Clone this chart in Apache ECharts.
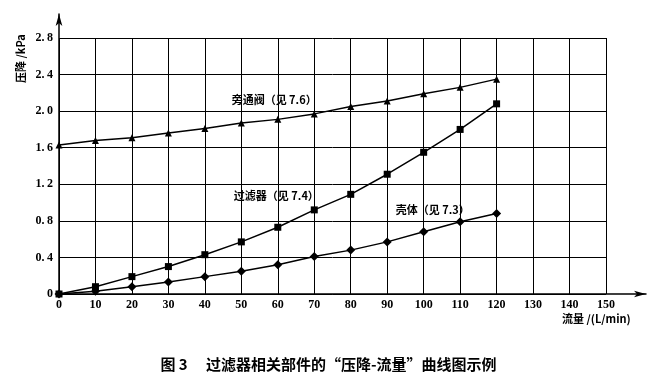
<!DOCTYPE html>
<html>
<head>
<meta charset="utf-8">
<script src="https://cdn.jsdelivr.net/npm/echarts@6/dist/echarts.min.js"></script>
<style>
  html, body { margin: 0; padding: 0; background: #fff; }
  #chart { width: 657px; height: 376px; }
</style>
</head>
<body>
<div id="chart"></div>
<script>
// 流量 L/min
var flow = [0, 10, 20, 30, 40, 50, 60, 70, 80, 90, 100, 110, 120];
// 压降 kPa
var bypass = [1.63, 1.68, 1.71, 1.76, 1.81, 1.87, 1.91, 1.97, 2.05, 2.11, 2.19, 2.26, 2.35];
var filter = [0, 0.08, 0.19, 0.30, 0.43, 0.57, 0.73, 0.92, 1.09, 1.31, 1.55, 1.80, 2.08];
var shell = [0, 0.03, 0.08, 0.13, 0.19, 0.25, 0.32, 0.41, 0.48, 0.57, 0.68, 0.79, 0.88];
var seriesNames = ['旁通阀（见 7.6）', '过滤器（见 7.4）', '壳体（见 7.3）'];
// label anchor points (data units)
var labelAt = [[59, 2.12], [59.6, 1.07], [102.5, 0.92]];

var cjk = '"Noto Sans CJK SC", sans-serif';
var serif = '"Liberation Serif", "DejaVu Serif", serif';

function pairs(ys) {
  return flow.map(function (x, i) { return [x, ys[i]]; });
}

function makeSeries(name, ys, symbol, size, idx) {
  return {
    name: name,
    type: 'line',
    data: pairs(ys),
    symbol: symbol,
    symbolSize: size,
    itemStyle: { color: '#000' },
    lineStyle: { color: '#000', width: 1.5 },
    z: 5,
    markPoint: {
      symbol: 'circle',
      symbolSize: 1,
      itemStyle: { color: 'rgba(0,0,0,0)' },
      data: [{ coord: labelAt[idx], value: 0 }],
      label: {
        show: true,
        position: 'inside',
        formatter: name,
        color: '#000',
        fontFamily: cjk,
        fontWeight: 'bold',
        fontSize: 11
      }
    }
  };
}

var chart = echarts.init(document.getElementById('chart'));
chart.setOption({
  animation: false,
  title: {
    text: '图 3　 过滤器相关部件的“压降-流量”曲线图示例',
    left: 'center',
    top: 352,
    textStyle: { fontFamily: cjk, fontWeight: 'bold', fontSize: 15, color: '#000' }
  },
  grid: [
    { left: 59, top: 38, width: 547, height: 256 },
    { left: 59, top: 14, width: 587, height: 280 }
  ],
  xAxis: [{
    type: 'value', gridIndex: 0, min: 0, max: 150, interval: 10,
    axisLine: { show: false },
    axisTick: { show: false },
    axisLabel: { color: '#000', fontFamily: serif, fontWeight: 'bold', fontSize: 12, margin: 5 },
    splitLine: { show: true, lineStyle: { color: '#000', width: 1 } }
  }, {
    type: 'value', gridIndex: 1, min: 0, max: 1,
    axisLine: { show: true, symbol: ['none', 'arrow'], symbolSize: [5, 12], lineStyle: { color: '#000', width: 1.5 } },
    axisTick: { show: false }, axisLabel: { show: false }, splitLine: { show: false }
  }],
  yAxis: [{
    type: 'value', gridIndex: 0, min: 0, max: 2.8, interval: 0.4,
    axisLine: { show: false },
    axisTick: { show: false },
    axisLabel: {
      color: '#000', fontFamily: serif, fontWeight: 'bold', fontSize: 12, margin: 6,
      formatter: function (v) { return v === 0 ? '0' : v.toFixed(1).replace('.', '.\u2009'); }
    },
    splitLine: { show: true, lineStyle: { color: '#000', width: 1 } }
  }, {
    type: 'value', gridIndex: 1, min: 0, max: 1,
    axisLine: { show: true, symbol: ['none', 'arrow'], symbolSize: [5, 12], lineStyle: { color: '#000', width: 1.5 } },
    axisTick: { show: false }, axisLabel: { show: false }, splitLine: { show: false }
  }],
  graphic: [{
    type: 'text', x: 15, y: 83, rotation: Math.PI / 2,
    style: { text: '压降 /kPa', fill: '#000', font: 'bold 11px ' + cjk }
  }, {
    type: 'text', left: 562, top: 313,
    style: { text: '流量 /(L/min)', fill: '#000', font: 'bold 11px ' + cjk }
  }],
  series: [
    makeSeries(seriesNames[0], bypass, 'triangle', 7, 0),
    makeSeries(seriesNames[1], filter, 'rect', 7, 1),
    makeSeries(seriesNames[2], shell, 'diamond', 9, 2)
  ]
});
</script>
</body>
</html>
